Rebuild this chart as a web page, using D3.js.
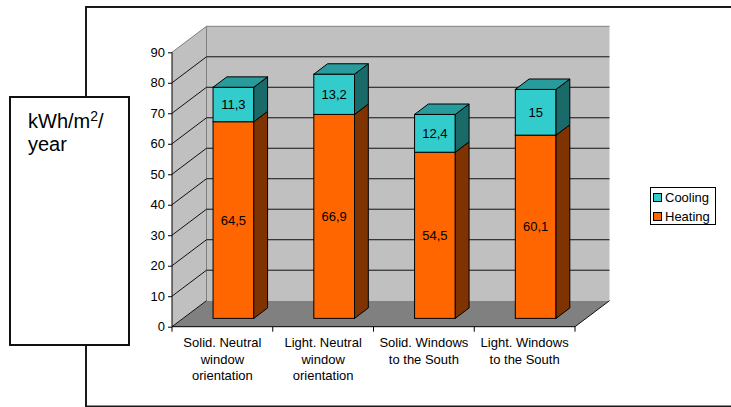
<!DOCTYPE html>
<html>
<head>
<meta charset="utf-8">
<script src="https://cdn.jsdelivr.net/npm/d3@7"></script>
<style>
  html, body { margin: 0; padding: 0; background: #fff; }
  svg { display: block; font-family: "Liberation Sans", Arial, sans-serif; }
</style>
</head>
<body>
<svg id="chart" width="731" height="407"></svg>
<script>
// Energy demand per scenario, kWh/m2/year
const categories = [
  "Solid. Neutral\nwindow\norientation",
  "Light. Neutral\nwindow\norientation",
  "Solid. Windows\nto the South",
  "Light. Windows\nto the South"
];
const heating = [64.5, 66.9, 54.5, 60.1];
const cooling = [11.3, 13.2, 12.4, 15];
const yTicks = [0, 10, 20, 30, 40, 50, 60, 70, 80, 90];
const seriesNames = ["Cooling", "Heating"];

const colors = {
  heatFront: "#FF6600", heatSide: "#7F3300", heatTop: "#CC5200",
  coolFront: "#33CCCC", coolSide: "#1B6A6A", coolTop: "#289C9C"
};

const svg = d3.select("#chart");

// outer frame
svg.append("rect").attr("x", 86).attr("y", 7).attr("width", 720).attr("height", 399.5)
  .attr("fill", "none").attr("stroke", "#1a1a1a").attr("stroke-width", 2);

// 3D plot geometry
const x0 = 172, x1 = 575;
const DX = 34.5, DY = -26;        // full depth vector of the floor
const zFront = 0.32, zBack = 0.72; // bar depth range

const y = d3.scaleLinear().domain([0, 90]).range([326.7, 52.3]);
const x = d3.scaleBand().domain(d3.range(categories.length)).range([x0, x1])
  .paddingInner(0.596).paddingOuter(0.298);
const step = x.step();

const g = svg.append("g");
const yTop = y(90), yBase = y(0);

// left wall
g.append("polygon")
  .attr("points", [[x0, yBase], [x0 + DX, yBase + DY], [x0 + DX, yTop + DY], [x0, yTop]].join(" "))
  .attr("fill", "#C0C0C0");
// back wall
g.append("rect").attr("x", x0 + DX).attr("y", yTop + DY)
  .attr("width", x1 - x0).attr("height", yBase - yTop).attr("fill", "#C0C0C0");
// floor
g.append("polygon")
  .attr("points", [[x0, yBase], [x1, yBase], [x1 + DX, yBase + DY], [x0 + DX, yBase + DY]].join(" "))
  .attr("fill", "#808080");

// wall edges
g.append("path")
  .attr("d", `M${x0},${yTop}L${x0 + DX},${yTop + DY}L${x1 + DX},${yTop + DY}M${x0 + DX},${yTop + DY}L${x0 + DX},${yBase + DY}`)
  .attr("fill", "none").attr("stroke", "#808080").attr("stroke-width", 1);

// gridlines on left and back walls
yTicks.forEach(v => {
  if (v === 90) return;
  const yy = y(v);
  g.append("path")
    .attr("d", `M${x0},${yy}L${x0 + DX},${yy + DY}` + (v > 0 ? `L${x1 + DX},${yy + DY}` : ""))
    .attr("fill", "none").attr("stroke", "#111").attr("stroke-width", 1);
});
// floor right edge
g.append("line").attr("x1", x1).attr("y1", yBase).attr("x2", x1 + DX).attr("y2", yBase + DY)
  .attr("stroke", "#111").attr("stroke-width", 1);

// y axis
const yAxis = d3.axisLeft(y).tickValues(yTicks).tickSize(4).tickPadding(3).tickFormat(d3.format("d"));
const ya = g.append("g").attr("transform", `translate(${x0},0)`).call(yAxis);
ya.select(".domain").attr("d", `M0,${yBase}V${yTop}`).attr("stroke", "#000");
ya.selectAll(".tick line").attr("stroke", "#000");
ya.selectAll("text").attr("font-size", 13).attr("fill", "#000")
  .attr("font-family", "Liberation Sans, Arial, sans-serif");

// x axis: baseline and category boundary ticks
g.append("line").attr("x1", x0).attr("x2", x1).attr("y1", yBase).attr("y2", yBase)
  .attr("stroke", "#000");
d3.range(categories.length + 1).forEach(i => {
  const tx = x0 + i * step;
  g.append("line").attr("x1", tx).attr("x2", tx).attr("y1", yBase).attr("y2", yBase + 5)
    .attr("stroke", "#000");
});

// category labels
categories.forEach((c, i) => {
  const t = g.append("text").attr("text-anchor", "middle").attr("font-size", 13).attr("fill", "#000");
  c.split("\n").forEach((line, k) => {
    t.append("tspan").attr("x", x(i) + x.bandwidth() / 2).attr("y", 347 + k * 16.5).text(line);
  });
});

// bars
const fx = DX * zFront, fy = DY * zFront;
const bx = DX * (zBack - zFront), by = DY * (zBack - zFront);
const fmt = v => String(v).replace(".", ",");

function block(left, w, vLow, vHigh, front, side, top) {
  const L = left + fx, R = left + w + fx;
  const T = y(vHigh) + fy, B = y(vLow) + fy;
  g.append("rect").attr("x", L).attr("y", T).attr("width", w).attr("height", B - T)
    .attr("fill", front).attr("stroke", "#000").attr("stroke-width", 1);
  g.append("polygon")
    .attr("points", [[R, B], [R + bx, B + by], [R + bx, T + by], [R, T]].join(" "))
    .attr("fill", side).attr("stroke", "#000").attr("stroke-width", 1);
  if (top) {
    g.append("polygon")
      .attr("points", [[L, T], [R, T], [R + bx, T + by], [L + bx, T + by]].join(" "))
      .attr("fill", top).attr("stroke", "#000").attr("stroke-width", 1);
  }
  return { cx: (L + R) / 2, cy: (T + B) / 2 };
}

categories.forEach((c, i) => {
  const h = heating[i], k = cooling[i];
  const hb = block(x(i), x.bandwidth(), 0, h, colors.heatFront, colors.heatSide, null);
  const cb = block(x(i), x.bandwidth(), h, h + k, colors.coolFront, colors.coolSide, colors.coolTop);
  g.append("text").attr("x", hb.cx).attr("y", hb.cy).attr("dy", "0.35em")
    .attr("text-anchor", "middle").attr("font-size", 13).attr("fill", "#000").text(fmt(h));
  g.append("text").attr("x", cb.cx).attr("y", cb.cy).attr("dy", "0.35em")
    .attr("text-anchor", "middle").attr("font-size", 13).attr("fill", "#000").text(fmt(k));
});

// legend
const lg = svg.append("g");
lg.append("rect").attr("x", 650.5).attr("y", 187.5).attr("width", 65).attr("height", 37)
  .attr("fill", "#fff").attr("stroke", "#000").attr("stroke-width", 1);
const legendColors = [colors.coolFront, colors.heatFront];
seriesNames.forEach((name, i) => {
  lg.append("rect").attr("x", 653.5).attr("y", 193.5 + i * 19).attr("width", 8).attr("height", 8)
    .attr("fill", legendColors[i]).attr("stroke", "#000").attr("stroke-width", 1);
  lg.append("text").attr("x", 665).attr("y", 201.5 + i * 19).attr("font-size", 13)
    .attr("fill", "#000").text(name);
});

// unit box
svg.append("rect").attr("x", 10).attr("y", 97).attr("width", 119).attr("height", 248)
  .attr("fill", "#fff").attr("stroke", "#111").attr("stroke-width", 2);
const unit = svg.append("text").attr("x", 28).attr("y", 127.5).attr("font-size", 20).attr("fill", "#000");
unit.append("tspan").text("kWh/m");
unit.append("tspan").attr("font-size", 14).attr("dy", -6.5).text("2");
unit.append("tspan").attr("dy", 6.5).text("/");
svg.append("text").attr("x", 28).attr("y", 151).attr("font-size", 20).attr("fill", "#000").text("year");
</script>
</body>
</html>
